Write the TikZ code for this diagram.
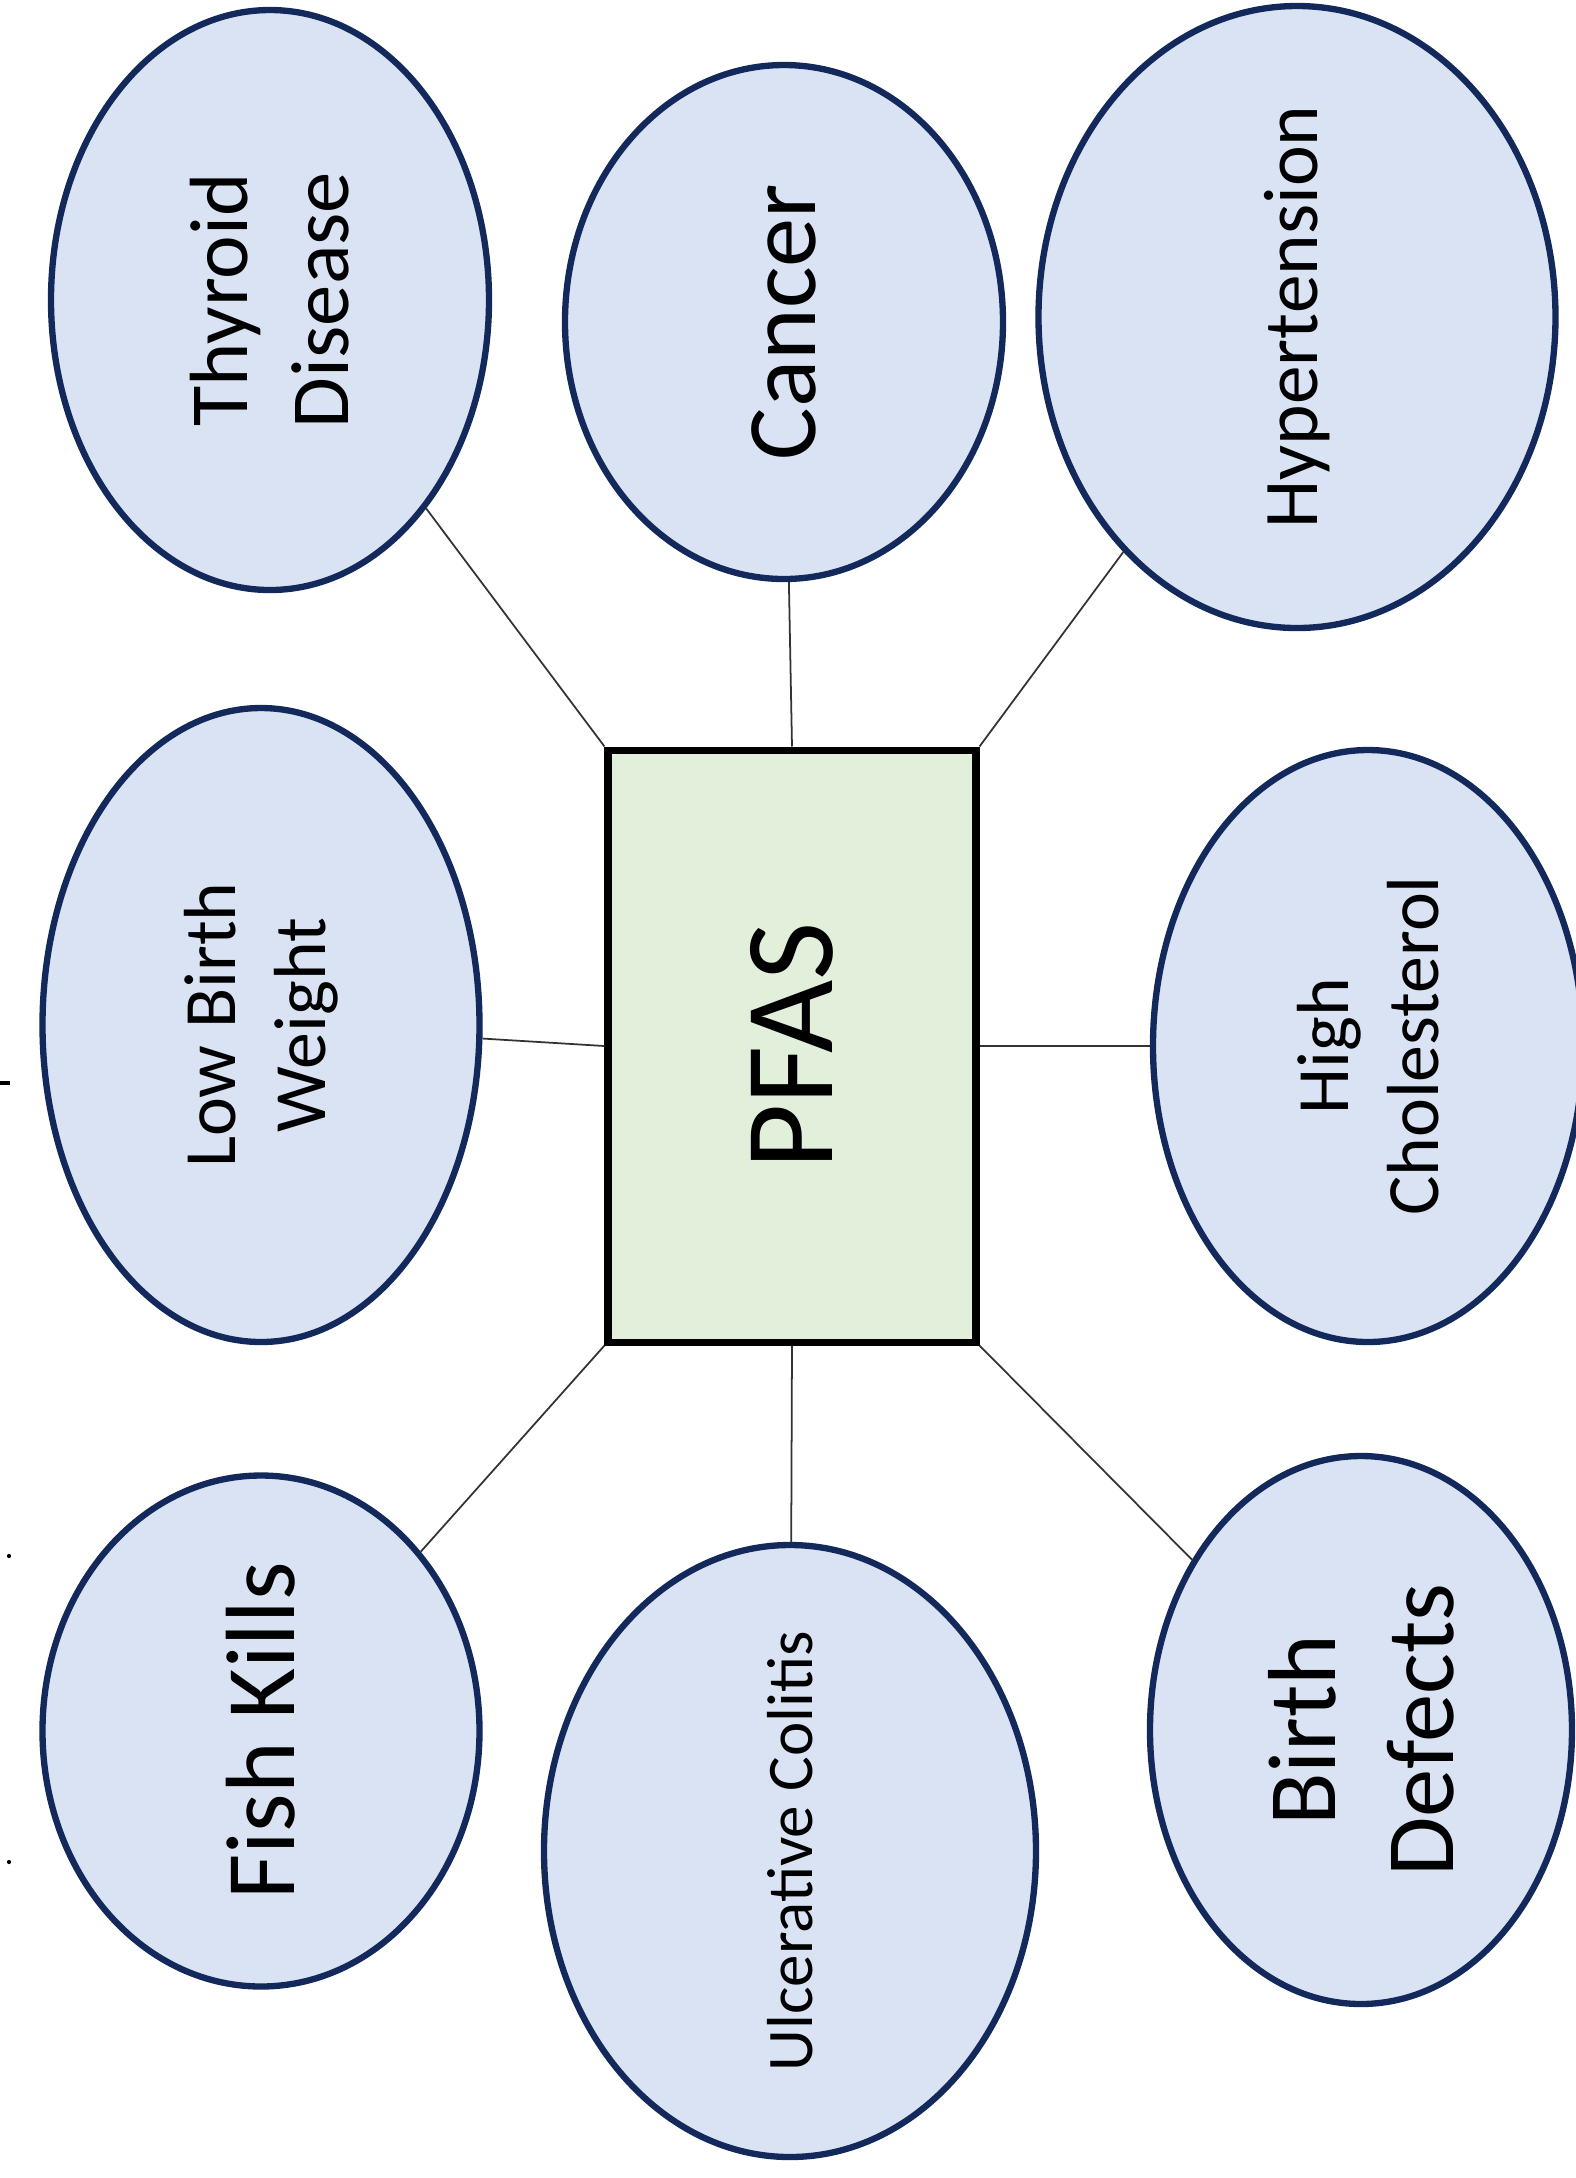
\documentclass[tikz,border=0pt]{standalone}
\usepackage{fontspec}
\setmainfont{Carlito}
\usepackage{xcolor}
\usetikzlibrary{positioning, shapes.geometric}

\definecolor{bubblefill}{HTML}{DAE3F3}
\definecolor{bubbleline}{HTML}{13295B}
\definecolor{hubfill}{HTML}{E2EFDA}

\begin{document}
\begin{tikzpicture}[
		bubble/.style={ellipse, draw=bubbleline, line width=1.8pt, fill=bubblefill,
			rotate=90, inner sep=0pt, align=center},
		link/.style={draw=black!80, line width=0.5pt}]
			\useasboundingbox (0,0) rectangle (15.75,-21.78);

			% Central box
			\node[draw, line width=2pt, fill=hubfill, minimum width=3.68cm, minimum height=5.92cm, inner sep=0pt] (pfas) at (7.92,-10.46) {\rotatebox{90}{\fontsize{36}{44}\selectfont PFAS}};

			% Top row
			\node[bubble, minimum width=5.80cm, minimum height=4.38cm, font=\fontsize{23.5}{28.7}\selectfont] (thyroid) at (2.70,-3.00) {Thyroid\\Disease};
			\node[bubble, minimum width=5.14cm, minimum height=4.38cm, font=\fontsize{28}{34}\selectfont] (cancer) at (7.84,-3.22) {Cancer};
			\node[bubble, minimum width=6.22cm, minimum height=5.17cm, font=\fontsize{22}{27}\selectfont] (hyper) at (12.97,-3.17) {Hypertension};

			% Middle row
			\node[bubble, minimum width=6.34cm, minimum height=4.37cm, font=\fontsize{21}{25.6}\selectfont] (lbw) at (2.61,-10.25) {Low Birth\\Weight};
			\node[bubble, minimum width=5.92cm, minimum height=4.30cm, font=\fontsize{21}{25.6}\selectfont] (chol) at (13.68,-10.46) {High\\Cholesterol};

			% Bottom row
			\node[bubble, minimum width=5.11cm, minimum height=4.37cm, font=\fontsize{28}{34}\selectfont] (fish) at (2.61,-17.31) {Fish Kills};
			\node[bubble, minimum width=6.12cm, minimum height=4.92cm, inner xsep=-3pt, font=\fontsize{18.5}{22.5}\selectfont] (colitis) at (7.90,-18.51) {Ulcerative Colitis};
			\node[bubble, minimum width=5.48cm, minimum height=4.22cm, font=\fontsize{27.5}{33.5}\selectfont] (defects) at (13.61,-17.30) {Birth\\Defects};

			% Links to the box
			\draw[link] (pfas.north west) -- (thyroid);
			\draw[link] (pfas.north) -- (cancer);
			\draw[link] (pfas.north east) -- (hyper);
			\draw[link] (pfas.west) -- (lbw);
			\draw[link] (pfas.east) -- (chol);
			\draw[link] (pfas.south west) -- (fish);
			\draw[link] (pfas.south) -- (colitis);
			\draw[link] (pfas.south east) -- (defects);

			% Stray marks at the left edge
			\draw[line width=0.9pt] (0,-10.83) -- (0.10,-10.83);
			\fill (0.09,-15.56) circle (0.6pt);
			\fill (0.09,-18.62) circle (0.6pt);
		\end{tikzpicture}
\end{document}
